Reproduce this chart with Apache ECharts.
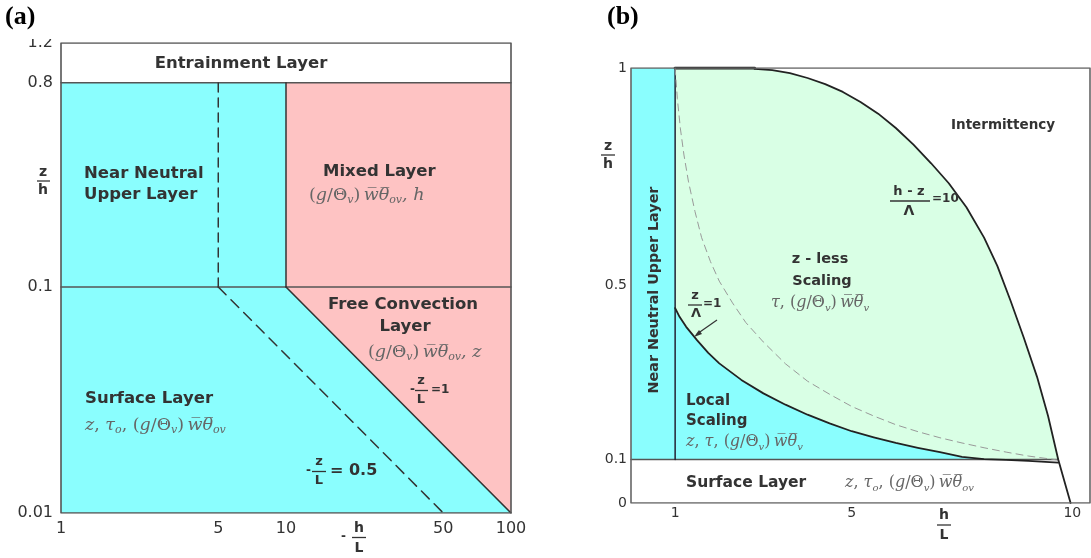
<!DOCTYPE html>
<html><head><meta charset="utf-8">
<script src="https://cdn.jsdelivr.net/npm/echarts@6/dist/echarts.min.js"></script>
<style>html,body{margin:0;padding:0;background:#fff}#c{width:1091px;height:558px}</style>
</head><body><div id="c"></div><script>
// ---------- Panel (a): -h/L (log) vs z/h (log) ----------
const aXTicks = [1, 5, 10, 50, 100];
const aXMinor = [5, 10, 50];
const aYTicks = [0.01, 0.1, 0.8, 1.2];
const aEntrainment = [[1,0.8],[100,0.8],[100,1.2],[1,1.2]];
const aNearNeutral = [[1,0.1],[10,0.1],[10,0.8],[1,0.8]];
const aMixed = [[10,0.1],[100,0.1],[100,0.8],[10,0.8]];
const aFreeConv = [[10,0.1],[100,0.1],[100,0.01]];
const aSurface = [[1,0.01],[100,0.01],[10,0.1],[1,0.1]];
const aZL1 = [[10,0.1],[100,0.01]];
const aZL05 = [[5,0.1],[50,0.01]];
const aDash5 = [[5,0.1],[5,0.8]];
const aLine10 = [[10,0.1],[10,0.8]];
const aLine01 = [[1,0.1],[100,0.1]];
const aLine08 = [[1,0.8],[100,0.8]];
const aFrame = [[1,1.2],[100,1.2],[100,0.01],[1,0.01],[1,1.2]];

// ---------- Panel (b): h/L (linear) vs z/h (linear) ----------
const bXTicks = [1, 5, 10];
const bYTicks = [0, 0.1, 0.5, 1];
const bNearNeutral = [[0,0.1],[1,0.1],[1,1],[0,1]];
const bSurface = [[0,0],[10.4,0],[10.4,0.1],[0,0.1]];
const bZLambda1 = [[1,0.448],[1.1,0.428],[1.25,0.405],[1.5,0.374],[1.75,0.345],[2.0,0.321],[2.5,0.283],[3.0,0.252],[3.5,0.226],[4.0,0.203],[4.5,0.183],[5.0,0.165],[5.5,0.151],[6.0,0.138],[6.5,0.127],[7.0,0.117],[7.5,0.106],[8.0,0.101],[8.5,0.099],[9.0,0.097],[9.68,0.093]];
const bHZLambda10 = [[2.8,0.998],[3.2,0.995],[3.6,0.988],[4.0,0.977],[4.4,0.963],[4.8,0.945],[5.2,0.922],[5.6,0.895],[6.0,0.862],[6.4,0.824],[6.8,0.781],[7.2,0.735],[7.6,0.68],[8.0,0.61],[8.3,0.545],[8.6,0.465],[8.9,0.38],[9.2,0.29],[9.45,0.2],[9.68,0.1],[9.96,0]];
const bDashed = [[1,1],[1.05,0.93],[1.12,0.86],[1.2,0.8],[1.3,0.74],[1.45,0.67],[1.6,0.61],[1.8,0.555],[2.0,0.51],[2.3,0.46],[2.6,0.415],[3.0,0.37],[3.5,0.32],[4.0,0.28],[4.5,0.25],[5.0,0.222],[5.5,0.2],[6.0,0.18],[6.5,0.164],[7.0,0.15],[7.5,0.138],[8.0,0.127],[8.5,0.117],[9.0,0.108],[9.66,0.099]];
const bLine01 = [[0,0.1],[9.68,0.1]];
const bLine1 = [[1,0.1],[1,1]];
const bTop = [[1,1],[2.8,1]];
const bFrame = [[0,1],[10.4,1],[10.4,0],[0,0],[0,1]];

// ---------- styling ----------
const CYAN = '#8afefe', PINK = '#fec3c3', GREEN = '#d9ffe5';
const SANS = 'DejaVu Sans', SERIF = 'DejaVu Serif';
const INK = '#333';

const hzUpper = bHZLambda10.filter(p => p[1] >= 0.1);
const bGreen = [[1,0.448],[1,1]].concat(bTop.slice(1)).concat(hzUpper).concat(bZLambda1.slice().reverse());
const bLocal = [[1,0.1]].concat(bZLambda1).concat([[bZLambda1[bZLambda1.length-1][0],0.1]]);

const polysA = [
  {pts:aEntrainment, fill:'#fff'}, {pts:aNearNeutral, fill:CYAN}, {pts:aMixed, fill:PINK},
  {pts:aSurface, fill:CYAN}, {pts:aFreeConv, fill:PINK}
];
const polysB = [
  {pts:bNearNeutral, fill:CYAN}, {pts:bGreen, fill:GREEN}, {pts:bLocal, fill:CYAN}, {pts:bSurface, fill:'#fff'}
];

function polySeries(idx, polys) {
  return {
    type:'custom', xAxisIndex:idx, yAxisIndex:idx, silent:true, animation:false, clip:false, z:1,
    data: polys.map((p,i)=>[p.pts[0][0], p.pts[0][1], i]),
    encode:{x:0,y:1},
    renderItem:(params, api)=>{
      const p = polys[api.value(2)];
      return {type:'polygon', shape:{points:p.pts.map(pt=>api.coord(pt))}, style:{fill:p.fill, stroke:null}};
    }
  };
}
function lineSeries(idx, data, color, width, type) {
  return {
    type:'line', xAxisIndex:idx, yAxisIndex:idx, data, symbol:'none', silent:true, animation:false, z:3,
    lineStyle:{color, width, type: type || 'solid', cap:'round', join:'round'}
  };
}

// ---------- text helpers (annotations) ----------
function T(x, y, text, o) {
  o = o || {};
  return {type:'text', x, y, rotation:o.rot||0, z:100, silent:true, style:{
    text, fill:o.fill||INK, fontSize:o.size||16.5, fontFamily:o.fam||SANS, fontWeight:o.w||'bold',
    align:o.align||'left', verticalAlign:'middle'
  }};
}
function richSet(size) {
  const sub = Math.round(size * 0.62);
  return {
    m:{fontFamily:SERIF, fontStyle:'italic', fontSize:size, fill:'#666', lineHeight:size+4},
    u:{fontFamily:SERIF, fontStyle:'normal', fontSize:size, fill:'#666', lineHeight:size+4},
    s:{fontFamily:SERIF, fontStyle:'italic', fontSize:sub, fill:'#666', lineHeight:sub, verticalAlign:'bottom'}
  };
}
const richA = richSet(17.5), richB = richSet(16);
function M(x, y, text, rich, align) {
  return {type:'text', x, y, z:100, silent:true, style:{text, rich, align:align||'left', verticalAlign:'middle'}};
}
function L(x1, y1, x2, y2, w, c) {
  return {type:'line', z:100, silent:true, shape:{x1,y1,x2,y2}, style:{stroke:c||INK, lineWidth:w||1.3}};
}
const WT = '{m|w\u0305\u03B8\u0305}';
const G = '{u|(}{m|g}{u|/\u0398}{s|v}{u|)} ';

const graphics = [
  // panel labels
  T(5, 17, '(a)', {fam:'Liberation Serif', size:26, fill:'#000'}),
  T(607, 17, '(b)', {fam:'Liberation Serif', size:26, fill:'#000'}),
  // ---- panel a ----
  T(241, 64, 'Entrainment Layer', {align:'center'}),
  T(84, 174, 'Near Neutral'), T(84, 195, 'Upper Layer'),
  T(323, 172, 'Mixed Layer'), M(309, 195, G + WT + '{s|ov}{m|, h}', richA),
  T(328, 305, 'Free Convection'), T(405, 327, 'Layer', {align:'center'}),
  M(368, 352, G + WT + '{s|ov}{m|, z}', richA),
  T(410, 390, '-', {size:12}), T(421, 381, 'z', {align:'center', size:13}), L(415, 390.5, 428, 390.5),
  T(421, 400, 'L', {align:'center', size:13}), T(431, 390, '=1', {size:12}),
  T(85, 399, 'Surface Layer'), M(85, 425, '{m|z}{u|, }{m|\u03C4}{s|o}{u|, }' + G + WT + '{s|ov}', richA),
  T(306, 471, '-', {size:12}), T(319, 462, 'z', {align:'center', size:13}), L(312, 471.5, 326, 471.5),
  T(319, 481, 'L', {align:'center', size:13}), T(330, 471, '= 0.5', {size:16}),
  T(43, 172, 'z', {align:'center', size:14}), L(37, 181, 50, 181), T(43, 190, 'h', {align:'center', size:14}),
  T(341, 537, '-', {size:12}), T(359, 528, 'h', {align:'center', size:14}), L(352, 537.5, 366, 537.5),
  T(359, 548, 'L', {align:'center', size:14}),
  // ---- panel b ----
  T(608, 146, 'z', {align:'center', size:14}), L(601, 155, 615, 155), T(608, 164, 'h', {align:'center', size:14}),
  T(944, 515, 'h', {align:'center', size:14}), L(937, 525, 951, 525), T(944, 535, 'L', {align:'center', size:14}),
  T(951, 125, 'Intermittency', {size:13.5}),
  T(909, 192, 'h - z', {align:'center', size:13}), L(890, 201, 930, 201), T(909, 211, '\u039B', {align:'center', size:14}),
  T(932, 199, '=10', {size:12}),
  T(820, 259, 'z - less', {align:'center', size:14.5}), T(822, 281, 'Scaling', {align:'center', size:14.5}),
  M(820, 303, '{m|\u03C4}{u|, }' + G + WT + '{s|v}', richB, 'center'),
  T(695, 296, 'z', {align:'center', size:13}), L(688, 305, 702, 305), T(696, 314, '\u039B', {align:'center', size:13}),
  T(703, 304, '=1', {size:12}),
  L(717, 320, 697, 334, 1.2),
  {type:'polygon', z:100, silent:true, shape:{points:[[694,337],[699,330],[702,334]]}, style:{fill:INK}},
  T(654, 290, 'Near Neutral Upper Layer', {align:'center', rot:Math.PI/2, size:14.3}),
  T(686, 401, 'Local', {size:15}), T(686, 421, 'Scaling', {size:15}),
  M(686, 442, '{m|z}{u|, }{m|\u03C4}{u|, }' + G + WT + '{s|v}', richB),
  T(686, 483, 'Surface Layer', {size:15.5}),
  M(845, 483, '{m|z}{u|, }{m|\u03C4}{s|o}{u|, }' + G + WT + '{s|ov}', richB),
  // clip top of the "1.2" label like the scan
  {type:'rect', z:200, silent:true, shape:{x:24, y:33, width:34, height:6}, style:{fill:'#fff'}}
];

const chart = echarts.init(document.getElementById('c'), null, {renderer:'canvas'});
const axisFont = {fontFamily:SANS, fontSize:15, color:INK};
const fmt = v => String(+(+v).toPrecision(3));
chart.setOption({
  animation:false,
  backgroundColor:'#fff',
  grid:[
    {left:61, top:43, width:450, height:470, outerBoundsMode:'none', containLabel:false},
    {left:631, top:68, width:459, height:435, outerBoundsMode:'none', containLabel:false}
  ],
  xAxis:[
    {type:'log', logBase:10, min:1, max:100, gridIndex:0, axisLine:{show:false}, splitLine:{show:false},
     axisTick:{show:true, inside:true, length:6, customValues:aXMinor, lineStyle:{color:'#444', width:1.3}},
     axisLabel:Object.assign({customValues:aXTicks, margin:8, formatter:fmt}, axisFont, {fontSize:16})},
    {type:'value', min:0, max:10.4, gridIndex:1, axisLine:{show:false}, splitLine:{show:false},
     axisTick:{show:true, inside:true, length:5, customValues:bXTicks, lineStyle:{color:'#444', width:1.3}},
     axisLabel:Object.assign({customValues:bXTicks, margin:3, formatter:fmt}, axisFont, {fontSize:14})}
  ],
  yAxis:[
    {type:'log', logBase:10, min:0.01, max:1.2, gridIndex:0, axisLine:{show:false}, splitLine:{show:false},
     axisTick:{show:false},
     axisLabel:Object.assign({customValues:aYTicks, margin:8, formatter:fmt}, axisFont, {fontSize:16})},
    {type:'value', min:0, max:1, gridIndex:1, axisLine:{show:false}, splitLine:{show:false},
     axisTick:{show:false},
     axisLabel:Object.assign({customValues:bYTicks, margin:4, formatter:fmt}, axisFont, {fontSize:14})}
  ],
  series:[
    polySeries(0, polysA),
    lineSeries(0, aLine08, '#555', 1.5),
    lineSeries(0, aLine01, '#555', 1.5),
    lineSeries(0, aLine10, '#333', 1.5),
    lineSeries(0, aDash5, '#333', 1.5, [9,6]),
    lineSeries(0, aZL1, '#333', 1.6),
    lineSeries(0, aZL05, '#333', 1.5, [11,7]),
    lineSeries(0, aFrame, '#555', 1.6),
    polySeries(1, polysB),
    lineSeries(1, bLine01, '#555', 1.5),
    lineSeries(1, bLine1, '#223', 1.5),
    lineSeries(1, bTop, '#222', 3),
    lineSeries(1, bDashed, '#999', 1, [7,5]),
    lineSeries(1, bZLambda1, '#222', 1.8),
    lineSeries(1, bHZLambda10, '#222', 1.8),
    lineSeries(1, bFrame, '#666', 1.6)
  ],
  graphic: graphics
});
</script></body></html>
